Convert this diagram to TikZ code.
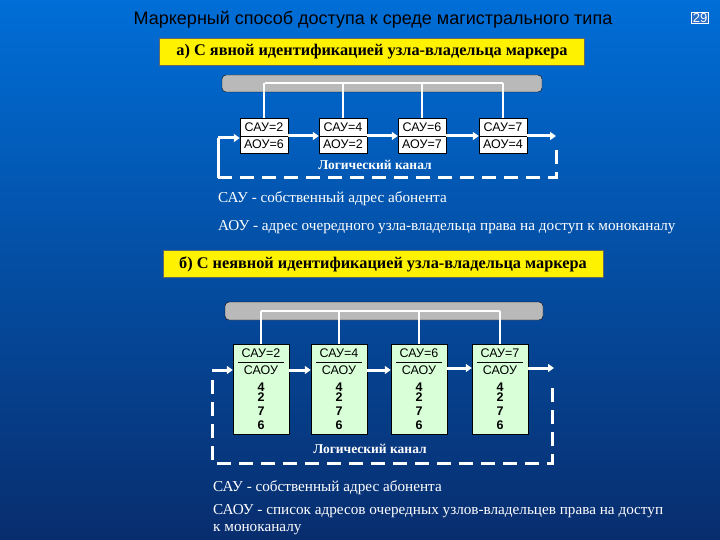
\documentclass[tikz,border=0pt]{standalone}
\usepackage{fontspec}
\usetikzlibrary{arrows.meta}
\setmainfont{Liberation Serif}
\newfontfamily\arialf{Liberation Sans}
\begin{document}
\begin{tikzpicture}[x=1pt,y=-1pt,
 banner/.style={fill=yellow,draw=black!60,minimum height=27pt,font=\bfseries\fontsize{16.3}{18}\selectfont,inner sep=0pt},
 bus/.style={fill=gray!55,draw=black,rounded corners=4pt},
 wl/.style={white,line width=2.2pt},
 wbox/.style={fill=white,draw=black,minimum width=48pt,minimum height=35pt,inner sep=0pt},
 gbox/.style={fill=green!15,draw=black,minimum width=56pt,minimum height=90pt,inner sep=0pt},
 bt/.style={font=\arialf\fontsize{12.5}{13}\selectfont,inner sep=0pt},
 arr/.style={white,line width=3pt,-{Triangle[length=6pt,width=8pt]}},
 dsh/.style={white,line width=3pt,dash pattern=on 14pt off 8pt},
 lbl/.style={white,font=\bfseries\fontsize{13.5}{15}\selectfont},
 txt/.style={white,anchor=west,font=\fontsize{15.2}{17}\selectfont,inner sep=0pt}]
\useasboundingbox (0,0) rectangle (720,540);
\shade[top color={rgb,255:red,0;green,110;blue,215},bottom color={rgb,255:red,8;green,45;blue,110}] (0,0) rectangle (720,540);
\node[font=\arialf\fontsize{18}{20}\selectfont] (title) at (373,20) {Маркерный способ доступа к среде магистрального типа};
\node[draw=white,line width=0.8pt,font=\arialf\fontsize{13}{14}\selectfont,inner sep=1pt,white,fill={rgb,255:red,40;green,110;blue,200}] (pg) at (700,18) {29};
% part a
\node[banner,minimum width=425pt] (ba) at (372,52) {а) С явной идентификацией узла-владельца маркера};
\draw[bus] (222,75) rectangle (542,92);
\coordinate (la) at (265,83); \coordinate (ra) at (503,83);
\draw[wl] (la) -- (ra);
\foreach \i/\x/\s/\a in {1/264/2/6,2/343/4/2,3/422/6/7,4/503/7/4}{
  \draw[wl] (\x,83) -- (\x,118);
  \node[wbox] (a\i) at (\x,136) {};
  \draw[black] (a\i.west) -- (a\i.east);
  \node[bt] at (\x,127) {САУ=\s};
  \node[bt] at (\x,144) {АОУ=\a};
}
\draw[arr] (a1.east) -- (a2.west);
\draw[arr] (a2.east) -- (a3.west);
\draw[arr] (a3.east) -- (a4.west);
\coordinate (ao) at (556,136); \coordinate (ai) at (218,138);
\draw[arr] (a4.east) -- (ao);
\draw[dsh] (556,150) -- (556,178) -- (218,178);
\draw[white,line width=3pt] (218,178) -- (218,138);
\draw[arr] (ai) -- (a1.west|-ai);
\node[lbl] (lca) at (375,165) {Логический канал};
\node[txt] (t1) at (218,199) {САУ - собственный адрес абонента};
\node[txt] (t2) at (218,227) {АОУ - адрес очередного узла-владельца права на доступ к моноканалу};
% part b
\node[banner,minimum width=440pt] (bb) at (383,264) {б) С неявной идентификацией узла-владельца маркера};
\draw[bus] (225,302) rectangle (543,320);
\draw[wl] (261,311) -- (500,311);
\foreach \i/\x/\s in {1/261/2,2/339/4,3/419/6,4/500/7}{
  \draw[wl] (\x,311) -- (\x,344);
  \node[gbox] (b\i) at (\x,389) {};
  \draw[black,line width=0.8pt] (\x-23,362) -- (\x+23,362);
  \node[bt] at (\x,353) {САУ=\s};
  \node[bt] at (\x,370) {САОУ};
  \node[bt,font=\arialf\bfseries\fontsize{12.5}{13}\selectfont,align=center] at (\x,406) {4\\[-3pt]2\\[1pt]7\\[1pt]6};
}
\draw[arr] (b1.east|-0,370) -- (b2.west|-0,370);
\draw[arr] (b2.east|-0,370) -- (b3.west|-0,370);
\draw[arr] (b3.east|-0,368) -- (b4.west|-0,368);
\coordinate (bi) at (212,370); \coordinate (bo) at (554,368);
\draw[arr] (bi) -- (b1.west|-bi);
\draw[arr] (b4.east|-bo) -- (bo);
\draw[dsh] (212,380) -- (212,463) -- (552,463) -- (552,385);
\node[lbl] (lcb) at (370,449) {Логический канал};
\node[txt] (t3) at (213,488) {САУ - собственный адрес абонента};
\node[txt] (t4) at (213,511) {САОУ - список адресов очередных узлов-владельцев права на доступ};
\node[txt] (t5) at (213,530) {к моноканалу};
\end{tikzpicture}
\end{document}
